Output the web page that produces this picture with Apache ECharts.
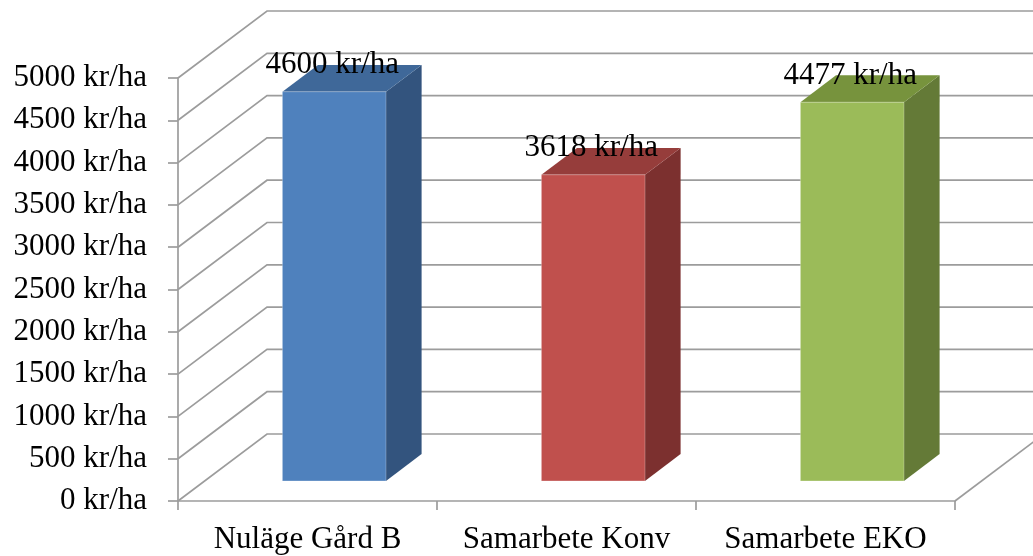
<!DOCTYPE html>
<html>
<head>
<meta charset="utf-8">
<script src="https://cdn.jsdelivr.net/npm/echarts@6/dist/echarts.min.js"></script>
<style>
  html, body { margin: 0; padding: 0; background: #fff; }
  #chart { width: 1033px; height: 556px; }
</style>
</head>
<body>
<div id="chart"></div>
<script>
// Categories and values (kr/ha)
const categories = ['Nuläge Gård B', 'Samarbete Konv', 'Samarbete EKO'];
const values = [4600, 3618, 4477];
const valueTicks = [0, 500, 1000, 1500, 2000, 2500, 3000, 3500, 4000, 4500, 5000];
const unit = 'kr/ha';

// Face colours per bar: front, top, side
const faceColors = [
  ['#4f81bd', '#3f6899', '#33547e'],
  ['#c0504d', '#963d3b', '#7c302f'],
  ['#9bbb59', '#77933d', '#647a37']
];

// Oblique depth of the plot box in pixels
const DEPTH_X = 89;
const DEPTH_Y = -67;
const BAR_FRONT = 0.3;   // bar front face position (fraction of depth)
const BAR_DEPTH = 0.4;   // bar thickness (fraction of depth)
const BAR_WIDTH = 0.4;   // fraction of category band
const GRID_COLOR = '#9c9c9c';
const GRID_WIDTH = 1.7;
const FONT = '"Liberation Serif", "Times New Roman", serif';

const chart = echarts.init(document.getElementById('chart'), null, { renderer: 'canvas' });

function wallItem(params, api) {
  const cs = params.coordSys;
  const v = api.value(0);
  const y = api.coord([0, v])[1];
  const left = cs.x, right = cs.x + cs.width;
  const lineStyle = { stroke: GRID_COLOR, lineWidth: GRID_WIDTH, fill: null };
  const children = [{
    type: 'polyline',
    shape: { points: [[left, y], [left + DEPTH_X, y + DEPTH_Y], [right + DEPTH_X, y + DEPTH_Y]] },
    style: lineStyle
  }];
  if (v === valueTicks[0]) {
    // right edge of the floor
    children.push({
      type: 'line',
      shape: { x1: right, y1: y, x2: right + DEPTH_X, y2: y + DEPTH_Y },
      style: lineStyle
    });
  }
  return { type: 'group', children };
}

function barItem(params, api) {
  const i = api.value(0);
  const v = api.value(1);
  const base = api.coord([i, 0]);
  const top = api.coord([i, v]);
  const band = api.size([1, 0])[0];
  const w = band * BAR_WIDTH;
  const fx = BAR_FRONT * DEPTH_X, fy = BAR_FRONT * DEPTH_Y;
  const bx = BAR_DEPTH * DEPTH_X, by = BAR_DEPTH * DEPTH_Y;
  const xl = base[0] - w / 2 + fx, xr = base[0] + w / 2 + fx;
  const yt = top[1] + fy, yb = base[1] + fy;
  const c = faceColors[i];
  return {
    type: 'group',
    children: [
      {
        type: 'polygon',
        shape: { points: [[xr, yt], [xr + bx, yt + by], [xr + bx, yb + by], [xr, yb]] },
        style: { fill: c[2] }
      },
      {
        type: 'polygon',
        shape: { points: [[xl, yt], [xr, yt], [xr + bx, yt + by], [xl + bx, yt + by]] },
        style: { fill: c[1] }
      },
      {
        type: 'rect',
        shape: { x: xl, y: yt, width: w, height: yb - yt },
        style: { fill: c[0], stroke: 'rgba(255,255,255,0.25)', lineWidth: 1 }
      },
      {
        type: 'text',
        style: {
          text: v + ' ' + unit,
          x: (xl + xr) / 2 - 2,
          y: yt - 11,
          align: 'center',
          verticalAlign: 'bottom',
          font: '31px ' + FONT,
          fill: '#000'
        }
      }
    ]
  };
}

chart.setOption({
  backgroundColor: '#fff',
  animation: false,
  grid: { left: 178, right: 78, top: 78, bottom: 55, containLabel: false },
  xAxis: {
    type: 'category',
    data: categories,
    axisLine: { show: true, lineStyle: { color: GRID_COLOR, width: GRID_WIDTH } },
    axisTick: { show: true, interval: 0, length: 9, lineStyle: { color: GRID_COLOR, width: GRID_WIDTH } },
    axisLabel: { interval: 0, color: '#000', fontFamily: FONT, fontSize: 31, margin: 23 },
    splitLine: { show: false }
  },
  yAxis: {
    type: 'value',
    min: valueTicks[0],
    max: valueTicks[valueTicks.length - 1],
    interval: valueTicks[1] - valueTicks[0],
    axisLine: { show: true, lineStyle: { color: GRID_COLOR, width: GRID_WIDTH } },
    axisTick: { show: true, length: 10, lineStyle: { color: GRID_COLOR, width: GRID_WIDTH } },
    axisLabel: {
      color: '#000', fontFamily: FONT, fontSize: 31, margin: 31,
      formatter: v => String(v) + ' ' + unit
    },
    splitLine: { show: false }
  },
  series: [
    {
      type: 'custom',
      renderItem: wallItem,
      data: valueTicks.map(v => [v]),
      encode: { y: 0 },
      clip: false,
      silent: true,
      z: 1
    },
    {
      type: 'custom',
      renderItem: barItem,
      data: values.map((v, i) => [i, v]),
      encode: { x: 0, y: 1 },
      clip: false,
      z: 3
    }
  ]
});
</script>
</body>
</html>
